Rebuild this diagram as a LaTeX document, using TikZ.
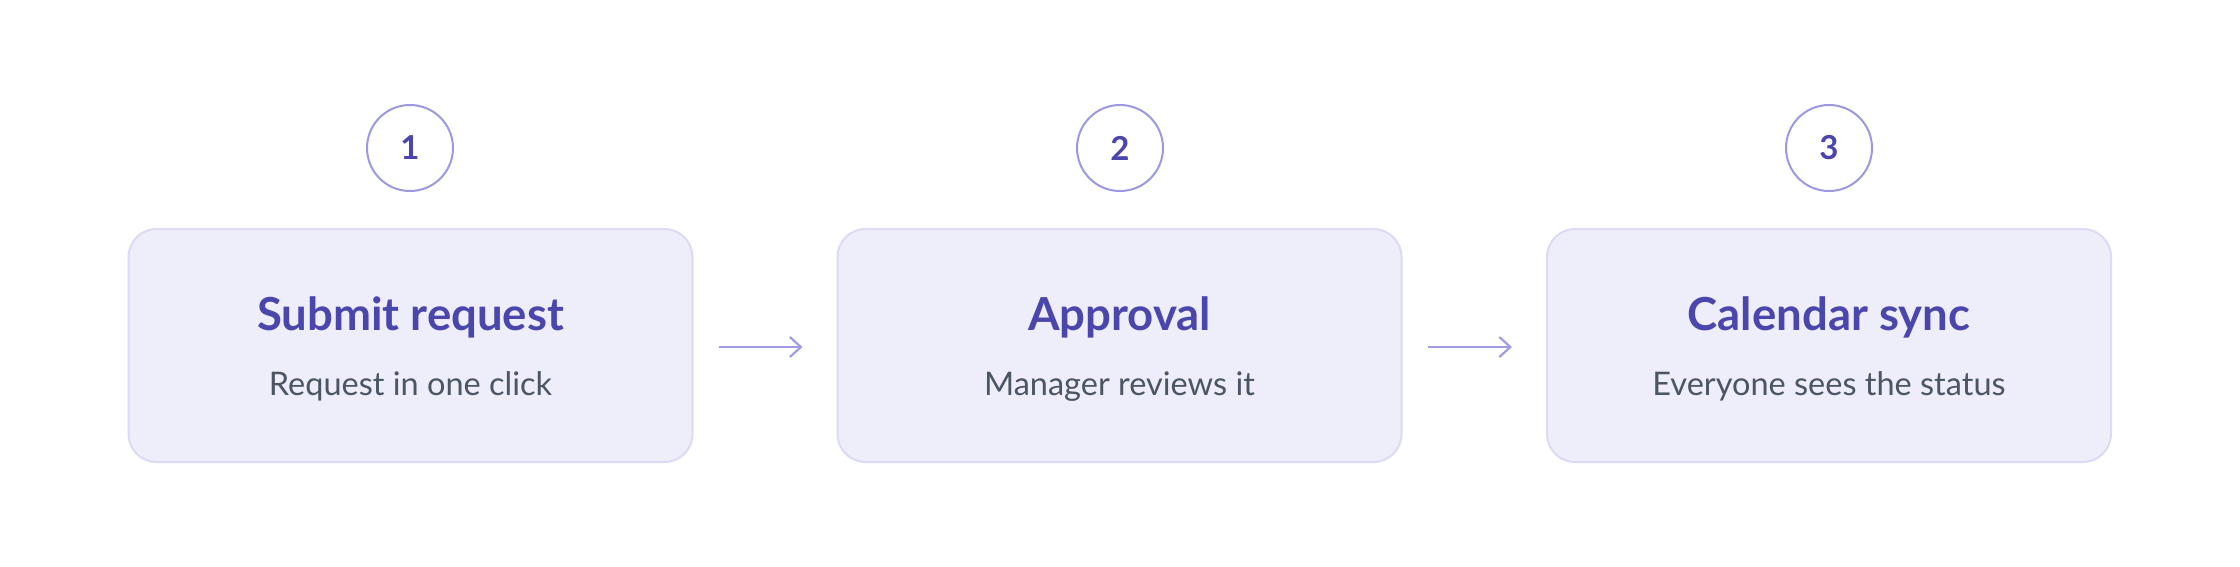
\documentclass[tikz,border=0pt]{standalone}
\usepackage{fontspec}
\setmainfont{Lato}
\usetikzlibrary{arrows.meta}
\definecolor{titlec}{HTML}{4A46AC}
\definecolor{subc}{HTML}{4B5563}
\definecolor{boxfill}{HTML}{EEEEFA}
\definecolor{boxline}{HTML}{DCDAF4}
\definecolor{circline}{HTML}{9C98E2}
\definecolor{arrowc}{HTML}{A09CE6}
\begin{document}
\begin{tikzpicture}[x=1pt,y=-1pt,
  stepbox/.style={draw=boxline,fill=boxfill,line width=2pt,rounded corners=28pt,minimum width=564pt,minimum height=233pt,inner sep=0pt},
  numcirc/.style={circle,draw=circline,fill=white,line width=2pt,minimum size=86pt,inner sep=0pt,text=titlec,font=\fontsize{33}{40}\selectfont\bfseries},
  titletext/.style={anchor=base,text=titlec,font=\fontsize{45.5}{52}\selectfont\bfseries,inner sep=0pt},
  subtext/.style={anchor=base,text=subc,font=\fontsize{32.5}{38}\selectfont,inner sep=0pt},
  flow/.style={draw=arrowc,line width=2.2pt,-{Straight Barb[length=11pt,width=20pt,line width=2.2pt]}}]
\useasboundingbox[fill=white] (0,0) rectangle (2240,566);
\node[stepbox] (b1) at (410.5,345.5) {};
\node[stepbox] (b2) at (1119.5,345.5) {};
\node[stepbox] (b3) at (1829,345.5) {};
\node[numcirc] (c1) at (410,148) {1};
\node[numcirc] (c2) at (1120,148) {2};
\node[numcirc] (c3) at (1829,148) {3};
\node[titletext] (t1) at (410.5,330) {Submit request};
\node[subtext] (s1) at (410.5,395) {Request in one click};
\node[titletext] (t2) at (1119.5,330) {Approval};
\node[subtext] (s2) at (1119.5,395) {Manager reviews it};
\node[titletext] (t3) at (1829,330) {Calendar sync};
\node[subtext] (s3) at (1829,395) {Everyone sees the status};
\coordinate (a1s) at ([xshift=25pt]b1.east);
\coordinate (a1e) at ([xshift=-34pt]b2.west);
\coordinate (a2s) at ([xshift=25pt]b2.east);
\coordinate (a2e) at ([xshift=-34pt]b3.west);
\draw[flow] ([yshift=-1.5pt]a1s) -- ([yshift=-1.5pt]a1e);
\draw[flow] ([yshift=-1.5pt]a2s) -- ([yshift=-1.5pt]a2e);
\end{tikzpicture}
\end{document}
